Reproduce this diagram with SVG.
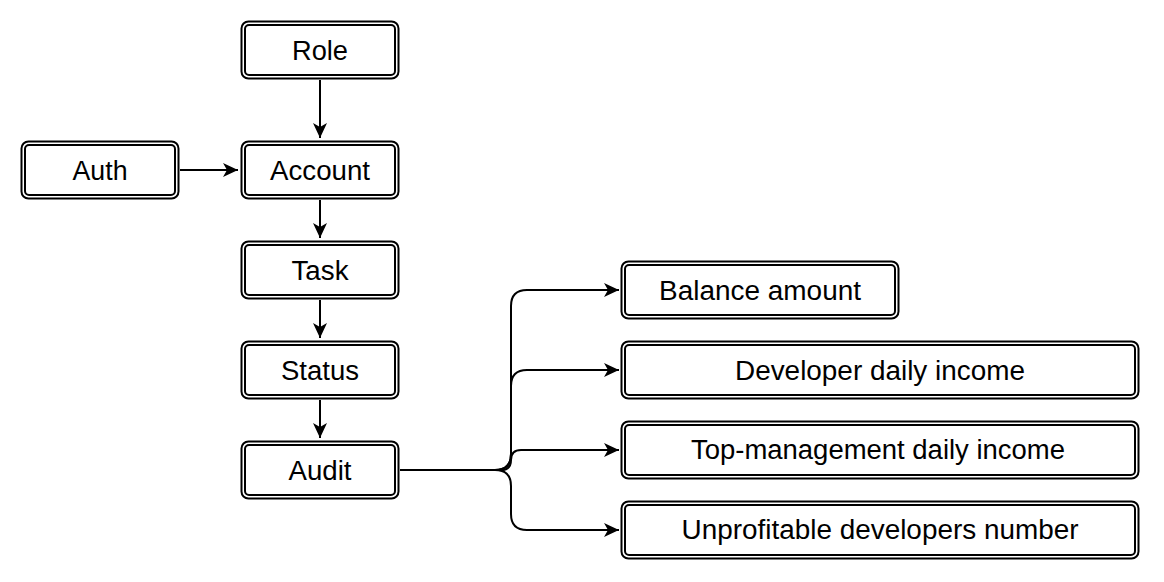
<svg xmlns="http://www.w3.org/2000/svg" width="1164" height="582" viewBox="0 0 1164 582">
<defs>
<style>
.o{fill:#fff;stroke:#000;stroke-width:2}
.i{fill:none;stroke:#000;stroke-width:2}
.t{font-family:"Liberation Sans",Arial,Helvetica,sans-serif;font-size:27px;fill:#000;text-anchor:middle}
.e{fill:none;stroke:#000;stroke-width:2}
</style>
<marker id="a" viewBox="0 0 16 16" refX="15" refY="8" markerWidth="16" markerHeight="16" markerUnits="userSpaceOnUse" orient="auto">
<path d="M0,1 L15,8 L0,15 L4,8 Z" fill="#000"/>
</marker>
</defs>
<rect width="1164" height="582" fill="#fff"/>
<g id="connectors">
<path class="e" d="M320,80 V138" marker-end="url(#a)"/>
<path class="e" d="M180,170 H238" marker-end="url(#a)"/>
<path class="e" d="M320,200 V238" marker-end="url(#a)"/>
<path class="e" d="M320,300 V338" marker-end="url(#a)"/>
<path class="e" d="M320,400 V438" marker-end="url(#a)"/>
<path class="e" d="M400,470 H495 Q511,470 511,454 V306 Q511,290 527,290 H619" marker-end="url(#a)"/>
<path class="e" d="M400,470 H495 Q511,470 511,454 V386 Q511,370 527,370 H619" marker-end="url(#a)"/>
<path class="e" d="M400,470 H501 Q511,470 511,460 Q511,450 521,450 H619" marker-end="url(#a)"/>
<path class="e" d="M400,470 H495 Q511,470 511,486 V514 Q511,530 527,530 H619" marker-end="url(#a)"/>
</g>
<g id="role">
<rect class="o" x="241.5" y="21.5" width="157" height="57" rx="7"/>
<rect class="i" x="245" y="25" width="150" height="50" rx="4"/>
<text class="t" x="320" y="59.5" textLength="56" lengthAdjust="spacingAndGlyphs">Role</text>
</g>
<g id="auth">
<rect class="o" x="21.5" y="141.5" width="157" height="57" rx="7"/>
<rect class="i" x="25" y="145" width="150" height="50" rx="4"/>
<text class="t" x="100" y="179.5" textLength="55" lengthAdjust="spacingAndGlyphs">Auth</text>
</g>
<g id="account">
<rect class="o" x="241.5" y="141.5" width="157" height="57" rx="7"/>
<rect class="i" x="245" y="145" width="150" height="50" rx="4"/>
<text class="t" x="320" y="179.5" textLength="100" lengthAdjust="spacingAndGlyphs">Account</text>
</g>
<g id="task">
<rect class="o" x="241.5" y="241.5" width="157" height="57" rx="7"/>
<rect class="i" x="245" y="245" width="150" height="50" rx="4"/>
<text class="t" x="320" y="279.5" textLength="57" lengthAdjust="spacingAndGlyphs">Task</text>
</g>
<g id="status">
<rect class="o" x="241.5" y="341.5" width="157" height="57" rx="7"/>
<rect class="i" x="245" y="345" width="150" height="50" rx="4"/>
<text class="t" x="320" y="379.5" textLength="78" lengthAdjust="spacingAndGlyphs">Status</text>
</g>
<g id="audit">
<rect class="o" x="241.5" y="441.5" width="157" height="57" rx="7"/>
<rect class="i" x="245" y="445" width="150" height="50" rx="4"/>
<text class="t" x="320" y="479.5" textLength="63" lengthAdjust="spacingAndGlyphs">Audit</text>
</g>
<g id="balance">
<rect class="o" x="621.5" y="261.5" width="277" height="57" rx="7"/>
<rect class="i" x="625" y="265" width="270" height="50" rx="4"/>
<text class="t" x="760" y="299.5" textLength="202" lengthAdjust="spacingAndGlyphs">Balance amount</text>
</g>
<g id="dev-income">
<rect class="o" x="621.5" y="341.5" width="517" height="57" rx="7"/>
<rect class="i" x="625" y="345" width="510" height="50" rx="4"/>
<text class="t" x="880" y="380" textLength="290" lengthAdjust="spacingAndGlyphs">Developer daily income</text>
</g>
<g id="top-income">
<rect class="o" x="621.5" y="421.5" width="517" height="57" rx="7"/>
<rect class="i" x="625" y="425" width="510" height="50" rx="4"/>
<text class="t" x="878" y="459" textLength="374" lengthAdjust="spacingAndGlyphs">Top-management daily income</text>
</g>
<g id="unprofitable">
<rect class="o" x="621.5" y="501.5" width="517" height="57" rx="7"/>
<rect class="i" x="625" y="505" width="510" height="50" rx="4"/>
<text class="t" x="880" y="539" textLength="397" lengthAdjust="spacingAndGlyphs">Unprofitable developers number</text>
</g>
</svg>
